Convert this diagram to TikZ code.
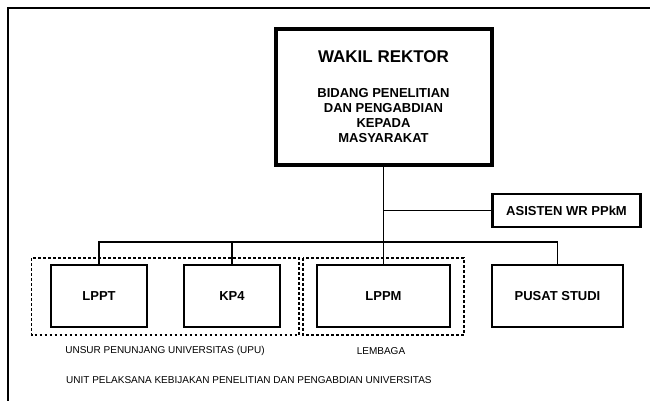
\documentclass[tikz,border=0pt]{standalone}
\usepackage{fontspec}
\setmainfont{Liberation Sans}

\begin{document}
\begin{tikzpicture}[
    x=1pt, y=-1pt,
    unit/.style={rectangle, draw, line width=2.6pt, inner sep=0pt,
                 font=\fontsize{13}{15}\selectfont\bfseries},
    head/.style={unit, line width=4pt, align=center},
    link/.style={line width=1.9pt},
    grp/.style={line width=1.7pt, dash pattern=on 2.6pt off 2.4pt},
    note/.style={font=\fontsize{10}{12}\selectfont, inner sep=0pt}
]
\useasboundingbox (0,0) rectangle (658,401);

% --- Frame (top and left edge) ---
\draw[line width=2pt] (7.5,401) -- (7.5,8.5) -- (650,8.5);

% --- Top: Wakil Rektor and Asisten ---
\node[head, minimum width=216pt, minimum height=135pt] (wr) at (383.5,97)
  {{\fontsize{17}{17}\selectfont WAKIL REKTOR}\\[20pt]
   BIDANG PENELITIAN\\ DAN PENGABDIAN\\ KEPADA\\ MASYARAKAT};
\node[unit, minimum width=148pt, minimum height=33pt] (asis) at (566.5,210.5) {ASISTEN WR PPkM};

% --- Bottom row: units ---
\node[unit, minimum width=96pt,  minimum height=62pt] (lppt)  at (99,296)    {LPPT};
\node[unit, minimum width=96pt,  minimum height=62pt] (kp4)   at (232,296)   {KP4};
\node[unit, minimum width=133pt, minimum height=62pt] (lppm)  at (383.5,296) {LPPM};
\node[unit, minimum width=131pt, minimum height=62pt] (pusat) at (557.5,296) {PUSAT STUDI};

% --- Connectors ---
\coordinate (ja)  at (wr.south |- asis.west);
\coordinate (bus) at (383.5,242);
\draw[link] (wr.south) -- (bus);
\draw[link] (ja) -- (asis.west);
\draw[link] (lppt.north) |- (bus) -| (pusat.north);
\draw[link] (kp4.north) -- (kp4.north |- bus);
\draw[link] (bus) -- (lppm.north);

% --- Dotted groups ---
\draw[grp] (31.5,258) rectangle (299,335);
\draw[grp] (303,258) rectangle (464,335);

% --- Group labels ---
\node[note] (upu) at (165,351) {UNSUR PENUNJANG UNIVERSITAS (UPU)};
\node[note] (lbg) at (381,351) {LEMBAGA};
\node[note, anchor=west] (upk) at (66,380)
  {UNIT PELAKSANA KEBIJAKAN PENELITIAN DAN PENGABDIAN UNIVERSITAS};
\end{tikzpicture}
\end{document}
